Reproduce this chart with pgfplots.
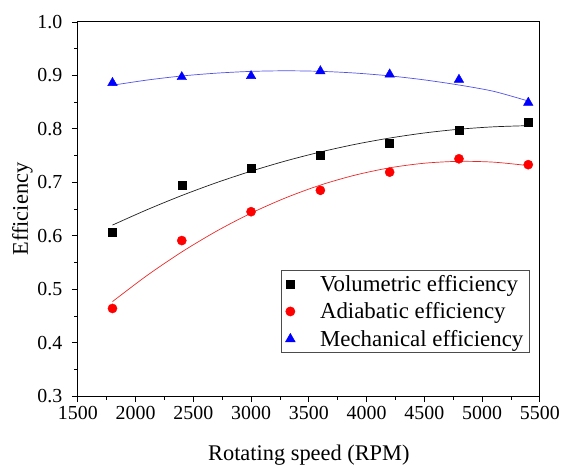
\documentclass[border=0pt]{standalone}
\usepackage{fontspec}
\setmainfont{Liberation Serif}
\usepackage{pgfplots}
\pgfplotsset{compat=1.18}
\definecolor{vblack}{RGB}{0,0,0}
\definecolor{ared}{RGB}{255,0,0}
\definecolor{mblue}{RGB}{0,0,255}
\definecolor{fitblue}{RGB}{80,80,235}
\definecolor{fitred}{RGB}{235,40,40}
\definecolor{fitblack}{RGB}{30,30,30}
\begin{document}
\begin{tikzpicture}
\begin{axis}[
  name=main,
  scale only axis,
  width=463bp, height=375bp,
  xmin=1500, xmax=5500,
  ymin=0.3, ymax=1.0,
  xtick={1500,2000,...,5500},
  ytick={0.3,0.4,...,1.0},
  minor x tick num=1,
  minor y tick num=1,
  tick align=outside,
  tick pos=left,
  major tick length=6bp,
  minor tick length=3.5bp,
  axis line style={line width=0.9pt},
  every tick/.style={line width=0.8pt,black},
  /pgf/number format/assume math mode=true,
  x tick label style={font=\fontsize{20}{22}\selectfont,/pgf/number format/1000 sep={},yshift=-1bp},
  y tick label style={font=\fontsize{20}{22}\selectfont,/pgf/number format/fixed,/pgf/number format/fixed zerofill,/pgf/number format/precision=1,xshift=-6bp},
  xlabel={Rotating speed (RPM)},
  ylabel={Efficiency},
  label style={font=\fontsize{22.5}{26}\selectfont},
  xlabel style={yshift=-18bp},
  ylabel style={yshift=-2bp},
  legend style={at={(rel axis cs:0.978,0.115)},anchor=south east,
    font=\fontsize{23}{26}\selectfont, draw=black!70, line width=0.6pt,
    inner xsep=4bp, inner ysep=3bp, row sep=6bp},
  legend cell align=left,
  legend image code/.code={\draw[#1] plot coordinates {(24bp,0bp)};},
]
\addplot[only marks, mark=square*, mark size=4bp, color=vblack] coordinates {
 (1800,0.607) (2400,0.694) (3000,0.727) (3600,0.750) (4200,0.774) (4800,0.797) (5400,0.812)};
\addlegendentry{\hspace{23bp}Volumetric efficiency}
\addplot[only marks, mark=*, mark size=4.6bp, color=ared] coordinates {
 (1800,0.464) (2400,0.591) (3000,0.645) (3600,0.685) (4200,0.719) (4800,0.744) (5400,0.733)};
\addlegendentry{\hspace{23bp}Adiabatic efficiency}
\addplot[only marks, mark=triangle*, mark size=5.5bp, color=mblue] coordinates {
 (1800,0.886) (2400,0.897) (3000,0.899) (3600,0.908) (4200,0.902) (4800,0.892) (5400,0.849)};
\addlegendentry{\hspace{23bp}Mechanical efficiency}
% fitted curves
\addplot[fitblack, line width=0.7pt, smooth, forget plot] coordinates {
 (1800,0.6200) (2100,0.6488) (2400,0.6753) (2700,0.6993) (3000,0.7208) (3300,0.7400) (3600,0.7567)
 (3900,0.7710) (4200,0.7828) (4500,0.7923) (4800,0.7993) (5100,0.8038) (5400,0.8060)};
\addplot[fitred, line width=0.7pt, smooth, forget plot] coordinates {
 (1800,0.4768) (2100,0.5258) (2400,0.5697) (2700,0.6085) (3000,0.6423) (3300,0.6710) (3600,0.6948)
 (3900,0.7134) (4200,0.7271) (4500,0.7357) (4800,0.7392) (5100,0.7377) (5400,0.7312)};
\addplot[fitblue, line width=0.7pt, smooth, forget plot] coordinates {
 (1800,0.8816) (2100,0.8913) (2400,0.8989) (2700,0.9042) (3000,0.9075) (3300,0.9086) (3600,0.9076)
 (3900,0.9044) (4200,0.8991) (4500,0.8916) (4800,0.8820) (5100,0.8702) (5400,0.8520)};
\end{axis}
\useasboundingbox ([xshift=-78bp,yshift=-71bp]main.south west) rectangle ([xshift=22bp,yshift=22bp]main.north east);
\end{tikzpicture}
\end{document}
